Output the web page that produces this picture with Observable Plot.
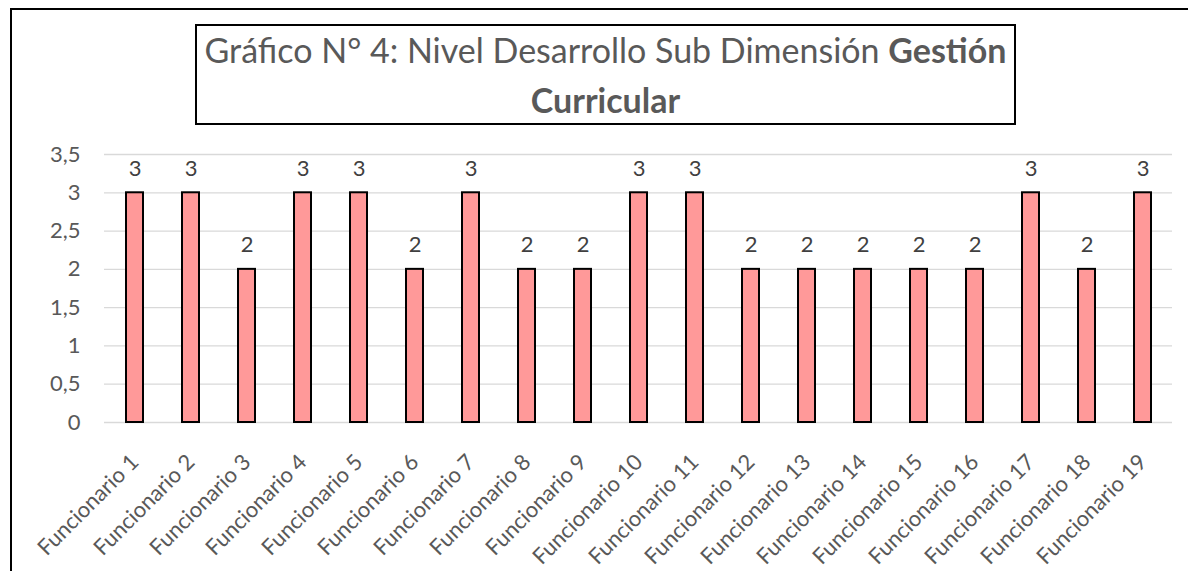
<!DOCTYPE html>
<html>
<head>
<meta charset="utf-8">
<script src="https://cdn.jsdelivr.net/npm/d3@7"></script>
<script src="https://cdn.jsdelivr.net/npm/@observablehq/plot@0.6"></script>
<style>
  html, body { margin: 0; padding: 0; background: #fff; }
  body { width: 1188px; height: 571px; overflow: hidden; position: relative; font-family: Lato, "Open Sans", sans-serif; }
  #frame { position: absolute; left: 10px; top: 8px; width: 1250px; height: 650px; border: 2px solid #000; box-sizing: border-box; }
  #title { position: absolute; left: 195px; top: 24px; width: 821px; height: 101px; border: 2px solid #000; box-sizing: border-box; background: #fff; z-index: 2; }
  #title .inner { position: absolute; left: 0; right: 0; top: -1px; text-align: center; color: #595959; font-size: 34px; line-height: 50px; white-space: nowrap; }
  #chart { position: absolute; left: 0; top: 0; z-index: 1; }
</style>
</head>
<body>
<div id="frame"></div>
<div id="title"><div class="inner"><div>Gráfico N° 4: Nivel Desarrollo Sub Dimensión <b>Gestión</b></div><div><b>Curricular</b></div></div></div>
<div id="chart"></div>
<script>
const categories = ["Funcionario 1","Funcionario 2","Funcionario 3","Funcionario 4","Funcionario 5","Funcionario 6","Funcionario 7","Funcionario 8","Funcionario 9","Funcionario 10","Funcionario 11","Funcionario 12","Funcionario 13","Funcionario 14","Funcionario 15","Funcionario 16","Funcionario 17","Funcionario 18","Funcionario 19"];
const values = [3,3,2,3,3,2,3,2,2,3,3,2,2,2,2,2,3,2,3];
const yTicks = [0,0.5,1,1.5,2,2.5,3,3.5];

const data = categories.map((c, i) => ({cat: c, val: values[i]}));
const fmt = d => String(d).replace(".", ",");

const chart = Plot.plot({
  width: 1188,
  height: 571,
  marginTop: 154,
  marginBottom: 149,
  marginLeft: 104,
  marginRight: 16,
  style: {fontFamily: "Lato, 'Open Sans', sans-serif", fontSize: "22px", color: "#595959", background: "transparent", overflow: "visible"},
  x: {domain: categories, paddingInner: 0.7, paddingOuter: 0.35},
  y: {domain: [0, 3.5]},
  marks: [
    Plot.gridY(yTicks, {stroke: "#d9d9d9", strokeOpacity: 1, strokeWidth: 1.3}),
    Plot.barY(data, {x: "cat", y: "val", fill: "#FF9999", stroke: "#000", strokeWidth: 2}),
    Plot.text(data, {x: "cat", y: "val", text: d => fmt(d.val), dy: -24, fill: "#404040", fontSize: 22}),
    Plot.axisY({ticks: yTicks, tickFormat: fmt, tickSize: 0, tickPadding: 24, label: null, fill: "#595959", fontSize: 22}),
    Plot.axisX({tickRotate: -45, tickSize: 0, tickPadding: 36, label: null, fill: "#595959", fontSize: 22})
  ]
});
document.getElementById("chart").appendChild(chart);
</script>
</body>
</html>
